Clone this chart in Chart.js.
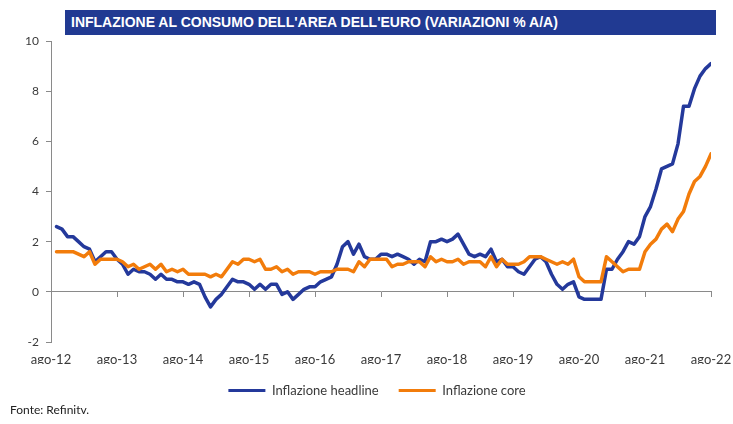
<!DOCTYPE html>
<html lang="it">
<head>
    <meta charset="UTF-8">
    <title>Inflazione al consumo dell'area dell'euro</title>
    <script src="https://cdn.jsdelivr.net/npm/chart.js"></script>
    <style>
        body { margin: 0; background: #fff; }
        #wrap { position: relative; width: 733px; height: 424px; }
        #banner {
            position: absolute; left: 65px; top: 10px; width: 651px; height: 25px;
            background: #213a92; color: #fff;
            font: bold 14px "Liberation Sans Narrow", "Liberation Sans", Arial, sans-serif;
            line-height: 25px; padding-left: 6px; box-sizing: border-box;
        }
        #fonte {
            position: absolute; left: 10px; top: 402px;
            font: 12px Lato, "Liberation Sans", sans-serif; color: #222;
        }
    </style>
</head>
<body>
<div id="wrap">
    <canvas id="inflChart" width="733" height="424"></canvas>
    <div id="banner">INFLAZIONE AL CONSUMO DELL'AREA DELL'EURO (VARIAZIONI % A/A)</div>
    <div id="fonte">Fonte: Refinitv.</div>
</div>

<script>
    // year labels on the x axis (one every 12 months, from ago-12)
    var tickLabels = ['ago-12', 'ago-13', 'ago-14', 'ago-15', 'ago-16', 'ago-17',
                      'ago-18', 'ago-19', 'ago-20', 'ago-21', 'ago-22'];

    // monthly values, set-12 .. ago-22
    var headline = [
        2.6, 2.5, 2.2, 2.2, 2.0, 1.8, 1.7, 1.2, 1.4, 1.6, 1.6, 1.3,
        1.1, 0.7, 0.9, 0.8, 0.8, 0.7, 0.5, 0.7, 0.5, 0.5, 0.4, 0.4,
        0.3, 0.4, 0.3, -0.2, -0.6, -0.3, -0.1, 0.2, 0.5, 0.4, 0.4, 0.3,
        0.1, 0.3, 0.1, 0.3, 0.3, -0.1, 0.0, -0.3, -0.1, 0.1, 0.2, 0.2,
        0.4, 0.5, 0.6, 1.1, 1.8, 2.0, 1.5, 1.9, 1.4, 1.3, 1.3, 1.5,
        1.5, 1.4, 1.5, 1.4, 1.3, 1.1, 1.3, 1.2, 2.0, 2.0, 2.1, 2.0,
        2.1, 2.3, 1.9, 1.5, 1.4, 1.5, 1.4, 1.7, 1.2, 1.3, 1.0, 1.0,
        0.8, 0.7, 1.0, 1.3, 1.4, 1.2, 0.7, 0.3, 0.1, 0.3, 0.4, -0.2,
        -0.3, -0.3, -0.3, -0.3, 0.9, 0.9, 1.3, 1.6, 2.0, 1.9, 2.2, 3.0,
        3.4, 4.1, 4.9, 5.0, 5.1, 5.9, 7.4, 7.4, 8.1, 8.6, 8.9, 9.1
    ];
    var core = [
        1.6, 1.6, 1.6, 1.6, 1.5, 1.4, 1.6, 1.1, 1.3, 1.3, 1.3, 1.3,
        1.2, 1.0, 1.1, 0.9, 1.0, 1.1, 0.9, 1.1, 0.8, 0.9, 0.8, 0.9,
        0.7, 0.7, 0.7, 0.7, 0.6, 0.7, 0.6, 0.9, 1.2, 1.1, 1.3, 1.3,
        1.2, 1.3, 0.9, 0.9, 1.0, 0.8, 0.9, 0.7, 0.8, 0.8, 0.8, 0.7,
        0.8, 0.8, 0.8, 0.9, 0.9, 0.9, 0.8, 1.2, 1.0, 1.3, 1.3, 1.3,
        1.3, 1.0, 1.1, 1.1, 1.2, 1.2, 1.2, 1.0, 1.4, 1.2, 1.3, 1.2,
        1.2, 1.3, 1.1, 1.2, 1.2, 1.2, 1.0, 1.4, 1.0, 1.3, 1.1, 1.1,
        1.1, 1.2, 1.4, 1.4, 1.4, 1.3, 1.2, 1.1, 1.2, 1.1, 1.3, 0.6,
        0.4, 0.4, 0.4, 0.4, 1.4, 1.2, 1.0, 0.8, 0.9, 0.9, 0.9, 1.6,
        1.9, 2.1, 2.5, 2.7, 2.4, 2.9, 3.2, 3.9, 4.4, 4.6, 5.0, 5.5
    ];

    var axisColor = '#8a8a8a';
    var textColor = '#3a3a3a';
    var fontFamily = 'Lato, "Liberation Sans", sans-serif';

    // x = months since ago-12
    function toPoints(values) {
        return values.map(function (v, i) { return { x: i + 1, y: v }; });
    }

    var ctx = document.getElementById('inflChart').getContext('2d');
    var inflChart = new Chart(ctx, {
        type: 'line',
        data: {
            datasets: [{
                label: 'Inflazione headline',
                data: toPoints(headline),
                borderColor: '#24399b',
                backgroundColor: '#24399b',
                borderWidth: 3.5,
                pointRadius: 0,
                borderJoinStyle: 'round',
                borderCapStyle: 'round',
                order: 1
            }, {
                label: 'Inflazione core',
                data: toPoints(core),
                borderColor: '#f27c0b',
                backgroundColor: '#f27c0b',
                borderWidth: 3.5,
                pointRadius: 0,
                borderJoinStyle: 'round',
                borderCapStyle: 'round',
                order: 0
            }]
        },
        options: {
            responsive: false,
            animation: false,
            // left padding pushes the legend a bit right of centre, as in the original
            layout: { padding: { top: 41, right: 0, left: 21, bottom: 17 } },
            scales: {
                x: {
                    type: 'linear',
                    position: 'bottom',
                    min: 0,
                    max: 120,
                    grid: { display: false, drawTicks: false },
                    border: { display: false },
                    ticks: {
                        stepSize: 12,
                        autoSkip: false,
                        maxRotation: 0,
                        padding: 10,
                        color: textColor,
                        font: { family: fontFamily, size: 13 },
                        callback: function (value) { return tickLabels[value / 12]; }
                    },
                    afterFit: function (scale) {
                        scale.height = 22;
                        scale.paddingLeft = 0;
                        scale.paddingRight = 0;
                    }
                },
                // axis line crossing at zero, with the year tick marks
                x0: {
                    type: 'linear',
                    position: { y: 0 },
                    min: 0,
                    max: 120,
                    grid: { drawOnChartArea: false, drawTicks: true, tickLength: 5, color: axisColor },
                    border: { color: axisColor, width: 1 },
                    ticks: { display: false, stepSize: 12 }
                },
                y: {
                    min: -2,
                    max: 10,
                    grid: { drawOnChartArea: false, tickLength: 5, color: axisColor },
                    border: { color: axisColor, width: 1 },
                    ticks: { stepSize: 2, padding: 7, color: textColor, font: { family: fontFamily, size: 12 } },
                    afterFit: function (scale) { scale.width = 30; }
                },
                // empty right margin
                yRight: {
                    position: 'right',
                    min: -2,
                    max: 10,
                    grid: { display: false },
                    border: { display: false },
                    ticks: { display: false },
                    afterFit: function (scale) { scale.width = 22; }
                }
            },
            plugins: {
                tooltip: { enabled: false },
                legend: {
                    position: 'bottom',
                    labels: {
                        boxWidth: 37,
                        boxHeight: 3,
                        padding: 20,
                        color: textColor,
                        font: { family: fontFamily, size: 13 },
                        sort: function (a, b) { return a.datasetIndex - b.datasetIndex; },
                        generateLabels: function (chart) {
                            var items = Chart.defaults.plugins.legend.labels.generateLabels(chart);
                            items.forEach(function (it) { it.lineWidth = 0; });
                            return items;
                        }
                    }
                }
            }
        }
    });
</script>
</body>
</html>
